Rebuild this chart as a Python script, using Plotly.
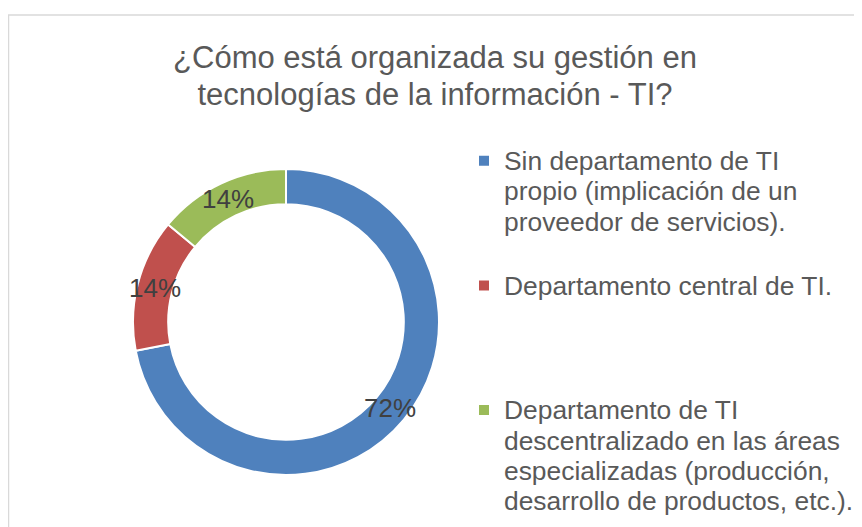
import math
import plotly.graph_objects as go

# ---- data ----
categories = [
    "Sin departamento de TI<br>propio (implicación de un<br>proveedor de servicios).",
    "Departamento central de TI.",
    "Departamento de TI<br>descentralizado en las áreas<br>especializadas (producción,<br>desarrollo de productos, etc.).",
]
values = [72, 14, 14]
colors = ["#4F81BD", "#C0504D", "#9BBB59"]
title_lines = ["¿Cómo está organizada su gestión en", "tecnologías de la información - TI?"]

W, H = 862, 527
FONT = "Liberation Sans, Arial, sans-serif"
LEG_LINE_SIZE = 23.4     # controls line spacing (1.3 em)
LEG_GLYPH_SIZE = 26.4    # actual glyph size
LINES_PER_ITEM = 4


def sized(text, px):
    return "<br>".join(f'<span style="font-size:{px}px">{ln}</span>' for ln in text.split("<br>"))


# pad legend entries to equal line counts so the spacing matches
legend_names = []
for c in categories:
    n = c.count("<br>") + 1
    legend_names.append(sized(c, LEG_GLYPH_SIZE) + "<br>\u00a0" * max(0, LINES_PER_ITEM - n))

# pie placement (pixels -> paper)
cx_px, cy_px, R = 278, 314, 153
hole = 0.77
dom_x = [(cx_px - R) / W, (cx_px + R) / W]
dom_y = [(H - cy_px - R) / H, (H - cy_px + R) / H]

fig = go.Figure(
    go.Pie(
        labels=legend_names,
        values=values,
        sort=False,
        direction="clockwise",
        rotation=0,
        hole=hole,
        marker=dict(colors=colors, line=dict(color="white", width=2)),
        textinfo="none",
        domain=dict(x=dom_x, y=dom_y),
        hoverinfo="percent",
    )
)

# percentage labels at the middle of the ring, derived from the values
total = sum(values)
cum = 0
annotations = []
r_lab = R * (1 + hole) / 2
cxp = (dom_x[0] + dom_x[1]) / 2
cyp = (dom_y[0] + dom_y[1]) / 2
for v in values:
    mid = (cum + v / 2) / total * 2 * math.pi
    cum += v
    annotations.append(
        dict(
            x=cxp + r_lab * math.sin(mid) / W,
            y=cyp + r_lab * math.cos(mid) / H,
            xref="paper", yref="paper",
            text=f"{round(v / total * 100)}%",
            showarrow=False,
            font=dict(family=FONT, size=26, color="#404040"),
            xanchor="center", yanchor="middle",
        )
    )

fig.update_layout(
    width=W, height=H,
    margin=dict(l=0, r=0, t=0, b=0, autoexpand=False),
    paper_bgcolor="white",
    plot_bgcolor="white",
    title=dict(
        text=sized("<br>".join(title_lines), 31),
        x=427 / W, xanchor="center",
        y=1 - 60 / H, yanchor="middle",
        font=dict(family=FONT, size=28.5, color="#595959"),
    ),
    legend=dict(
        x=456 / W, xanchor="left",
        y=1 - 131 / H, yanchor="top",
        font=dict(family=FONT, size=LEG_LINE_SIZE, color="#595959"),
        valign="top",
        bgcolor="rgba(0,0,0,0)",
    ),
    annotations=annotations,
    shapes=[
        dict(
            type="rect", xref="paper", yref="paper",
            x0=0.5 / W, x1=1.05, y0=-0.05, y1=1 - 7 / H,
            line=dict(color="#D9D9D9", width=1.5),
            fillcolor="rgba(0,0,0,0)",
            layer="below",
        )
    ],
)

fig.write_html("out.html")
